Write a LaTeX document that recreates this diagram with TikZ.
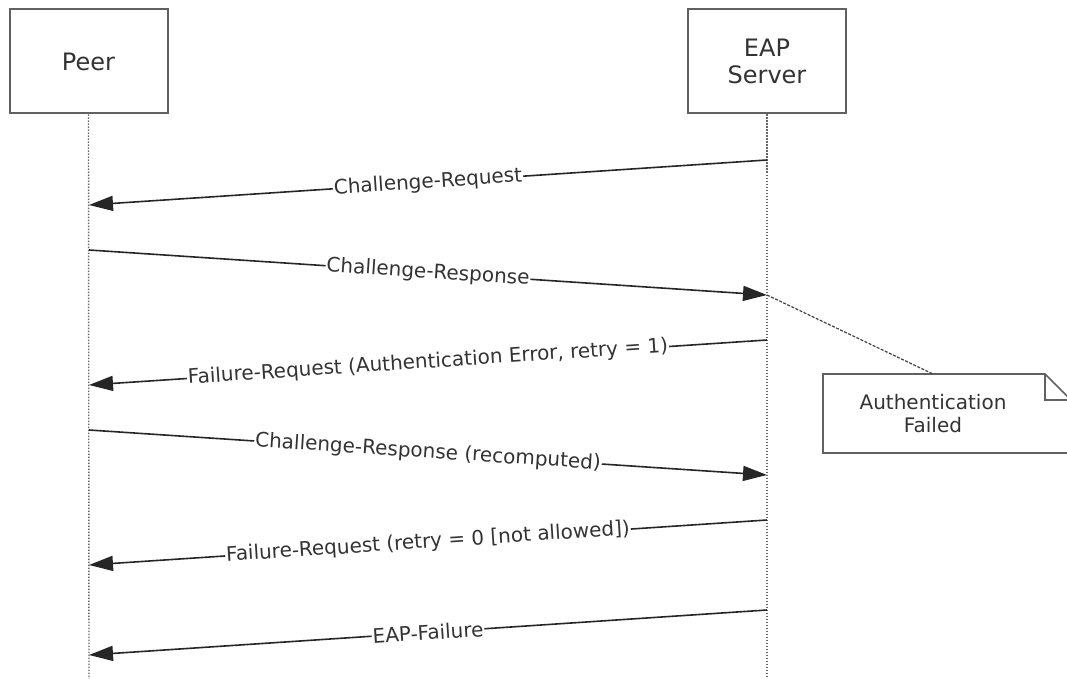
\documentclass[tikz,border=0pt]{standalone}
\usepackage{fontspec}
\setmainfont{DejaVu Sans}
\usetikzlibrary{arrows.meta,positioning}

\tikzset{
  actor/.style={draw=black!62, line width=2pt, minimum width=158pt, minimum height=104pt,
    align=center, text=black!80, font=\fontsize{24}{27}\selectfont},
  lifeline/.style={draw=black!60, line width=1.4pt, dash pattern=on 1.5pt off 1.5pt},
  msg/.style={draw=black!85, line width=1.6pt, -{Triangle[length=24pt,width=15pt]}},
  msglabel/.style={midway, sloped, fill=white, inner sep=1pt, text=black!80,
    font=\fontsize{20}{23}\selectfont},
  notebox/.style={draw=black!62, line width=1.6pt},
  notelink/.style={draw=black!75, line width=1.2pt, dash pattern=on 3pt off 1.5pt},
}

\begin{document}
\begin{tikzpicture}[x=1pt,y=-1pt]
  \useasboundingbox (0,0) rectangle (1067,679);

  %%%%% actors %%%%%
  \node[actor] (peer) at (88.5,61.5) {Peer};
  \node[actor] (server) at (767,61.5) {EAP\\Server};

  \coordinate (peerend) at (89,679);
  \coordinate (serverend) at (767,679);
  \draw[lifeline] (peer.south) -- (peerend);
  \draw[lifeline] (server.south) -- (serverend);

  %%%%% messages %%%%%
  \coordinate (s1) at (767,160); \coordinate (p1) at (89,205);
  \coordinate (p2) at (89,250);  \coordinate (s2) at (767,295);
  \coordinate (s3) at (767,340); \coordinate (p3) at (89,385);
  \coordinate (p4) at (89,430);  \coordinate (s4) at (767,475);
  \coordinate (s5) at (767,520); \coordinate (p5) at (89,565);
  \coordinate (s6) at (767,610); \coordinate (p6) at (89,655);

  \draw[msg] (s1) -- node[msglabel] {Challenge-Request} (p1);
  \draw[msg] (p2) -- node[msglabel] {Challenge-Response} (s2);
  \draw[msg] (s3) -- node[msglabel] {Failure-Request (Authentication Error, retry = 1)} (p3);
  \draw[msg] (p4) -- node[msglabel] {Challenge-Response (recomputed)} (s4);
  \draw[msg] (s5) -- node[msglabel] {Failure-Request (retry = 0 [not allowed])} (p5);
  \draw[msg] (s6) -- node[msglabel] {EAP-Failure} (p6);

  %%%%% note %%%%%
  \draw[notebox] (823,374) -- (1045,374) -- (1071,400) -- (1071,453) -- (823,453) -- cycle;
  \draw[notebox] (1045,374) |- (1071,400);
  \node[align=center, text=black!80, font=\fontsize{20}{23}\selectfont] (note) at (933,414)
    {Authentication\\Failed};
  \coordinate (notetop) at (933,374);
  \draw[notelink] (s2) -- (notetop);
\end{tikzpicture}
\end{document}
